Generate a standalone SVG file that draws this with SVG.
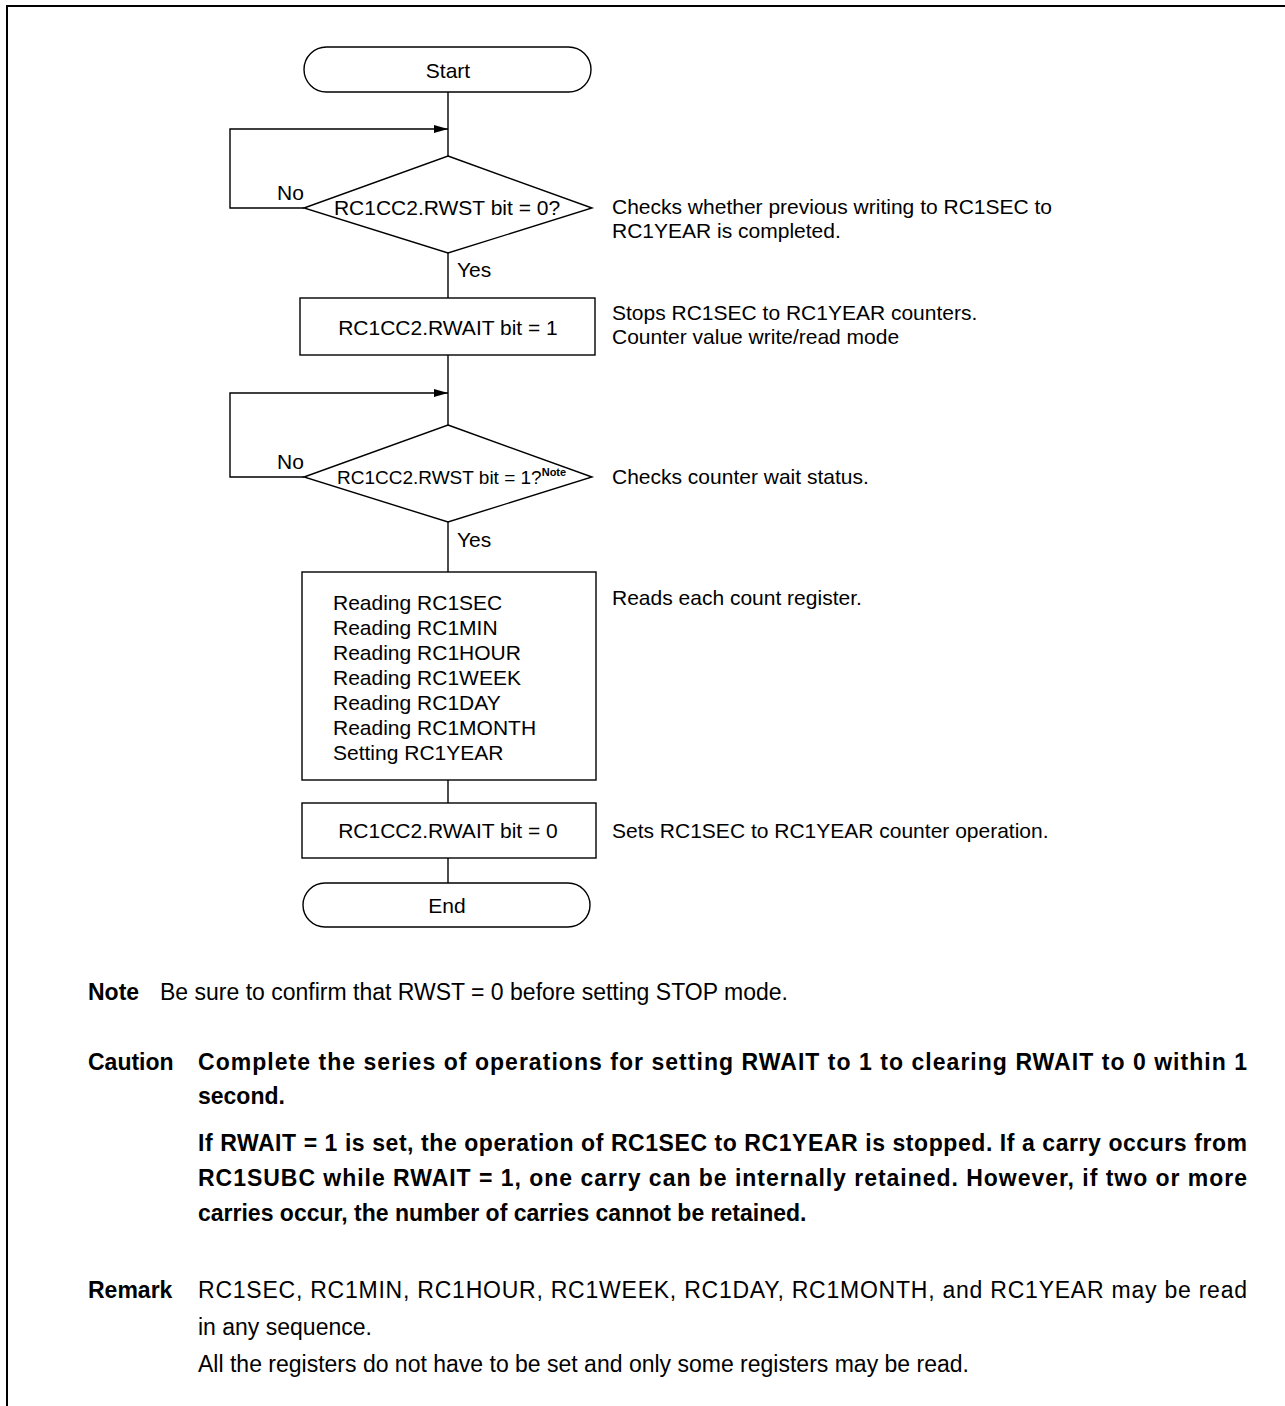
<svg xmlns="http://www.w3.org/2000/svg" width="1285" height="1406" viewBox="0 0 1285 1406">
<defs>
<style>
.s{fill:#fff;stroke:#000;stroke-width:1.4}
.c{fill:none;stroke:#000;stroke-width:1.4}
.t{font-family:"Liberation Sans",Arial,sans-serif;font-size:21px;fill:#000}
.m{text-anchor:middle}
.b{font-family:"Liberation Sans",Arial,sans-serif;font-size:23px;fill:#000}
.bb{font-family:"Liberation Sans",Arial,sans-serif;font-size:23px;font-weight:bold;fill:#000}
</style>
<marker id="ah" viewBox="0 0 14 8" refX="14" refY="4" markerWidth="14" markerHeight="8" markerUnits="userSpaceOnUse" orient="auto">
<path d="M0,0 L14,4 L0,8 Z" fill="#000"/>
</marker>
</defs>
<rect width="1285" height="1406" fill="#fff"/>
<g id="frame">
<line x1="6" y1="6" x2="1285" y2="6" stroke="#000" stroke-width="2"/>
<line x1="7" y1="5" x2="7" y2="1406" stroke="#000" stroke-width="2"/>
</g>
<g id="connectors">
<line class="c" x1="448" y1="92" x2="448" y2="156"/>
<polyline class="c" points="304,208 230,208 230,129 448,129" marker-end="url(#ah)"/>
<line class="c" x1="448" y1="253" x2="448" y2="298"/>
<line class="c" x1="448" y1="355" x2="448" y2="425"/>
<polyline class="c" points="304,477 230,477 230,393 448,393" marker-end="url(#ah)"/>
<line class="c" x1="448" y1="522" x2="448" y2="572"/>
<line class="c" x1="448" y1="780" x2="448" y2="803"/>
<line class="c" x1="448" y1="858" x2="448" y2="883"/>
<text class="t" x="277" y="200">No</text>
<text class="t" x="457" y="277">Yes</text>
<text class="t" x="277" y="469">No</text>
<text class="t" x="457" y="547">Yes</text>
</g>
<g id="start">
<rect class="s" x="304" y="47" width="287" height="45" rx="22.5"/>
<text class="t m" x="448" y="78">Start</text>
</g>
<g id="check1">
<polygon class="s" points="448,156 592,208 448,253 304,208"/>
<text class="t m" x="447" y="215">RC1CC2.RWST bit = 0?</text>
<text class="t" x="612" y="214">Checks whether previous writing to RC1SEC to</text>
<text class="t" x="612" y="238">RC1YEAR is completed.</text>
</g>
<g id="rwait1">
<rect class="s" x="300" y="298" width="295" height="57"/>
<text class="t m" x="448" y="335">RC1CC2.RWAIT bit = 1</text>
<text class="t" x="612" y="320">Stops RC1SEC to RC1YEAR counters.</text>
<text class="t" x="612" y="344">Counter value write/read mode</text>
</g>
<g id="check2">
<polygon class="s" points="448,425 592,477 448,522 304,477"/>
<text class="t" x="337" y="484" style="font-size:19px">RC1CC2.RWST bit = 1?<tspan font-size="11" font-weight="bold" dy="-8">Note</tspan></text>
<text class="t" x="612" y="484">Checks counter wait status.</text>
</g>
<g id="read">
<rect class="s" x="302" y="572" width="294" height="208"/>
<text class="t" x="333" y="610">Reading RC1SEC</text>
<text class="t" x="333" y="635">Reading RC1MIN</text>
<text class="t" x="333" y="660">Reading RC1HOUR</text>
<text class="t" x="333" y="685">Reading RC1WEEK</text>
<text class="t" x="333" y="710">Reading RC1DAY</text>
<text class="t" x="333" y="735">Reading RC1MONTH</text>
<text class="t" x="333" y="760">Setting RC1YEAR</text>
<text class="t" x="612" y="605">Reads each count register.</text>
</g>
<g id="rwait0">
<rect class="s" x="302" y="803" width="294" height="55"/>
<text class="t m" x="448" y="838">RC1CC2.RWAIT bit = 0</text>
<text class="t" x="612" y="838">Sets RC1SEC to RC1YEAR counter operation.</text>
</g>
<g id="end">
<rect class="s" x="303" y="883" width="287" height="44" rx="22"/>
<text class="t m" x="447" y="913">End</text>
</g>
<g id="notes">
<text class="bb" x="88" y="1000">Note</text>
<text class="b" x="160" y="1000">Be sure to confirm that RWST = 0 before setting STOP mode.</text>
<text class="bb" x="88" y="1070">Caution</text>
<text class="bb" x="198" y="1070" textLength="1049" lengthAdjust="spacing">Complete the series of operations for setting RWAIT to 1 to clearing RWAIT to 0 within 1</text>
<text class="bb" x="198" y="1104">second.</text>
<text class="bb" x="198" y="1151" textLength="1049" lengthAdjust="spacing">If RWAIT = 1 is set, the operation of RC1SEC to RC1YEAR is stopped.  If a carry occurs from</text>
<text class="bb" x="198" y="1186" textLength="1049" lengthAdjust="spacing">RC1SUBC while RWAIT = 1, one carry can be internally retained. However, if two or more</text>
<text class="bb" x="198" y="1221">carries occur, the number of carries cannot be retained.</text>
<text class="bb" x="88" y="1298">Remark</text>
<text class="b" x="198" y="1298" textLength="1049" lengthAdjust="spacing">RC1SEC, RC1MIN, RC1HOUR, RC1WEEK, RC1DAY, RC1MONTH, and RC1YEAR may be read</text>
<text class="b" x="198" y="1335">in any sequence.</text>
<text class="b" x="198" y="1372">All the registers do not have to be set and only some registers may be read.</text>
</g>
</svg>
